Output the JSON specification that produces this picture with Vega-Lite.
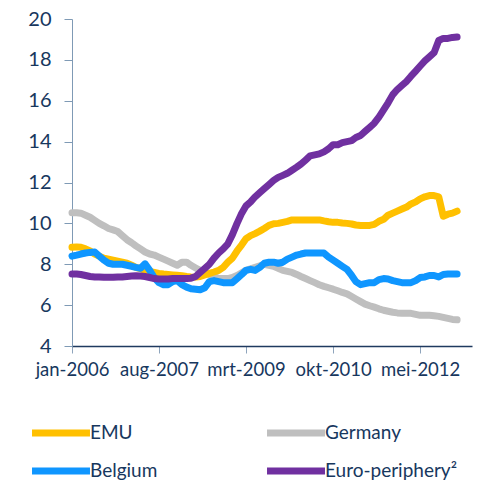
{
  "$schema": "https://vega.github.io/schema/vega-lite/v6.json",
  "width": 400,
  "height": 327,
  "autosize": {"type": "none"},
  "padding": {"left": 72, "top": 19, "right": 11, "bottom": 135},
  "background": "white",
  "config": {"view": {"stroke": null}, "font": "Lato"},
  "data": {"values": [
    {"d":"2006-01-01","Germany":10.52,"EMU":8.83,"Belgium":8.4,"Euro-periphery²":7.52},
    {"d":"2006-02-01","Germany":10.52,"EMU":8.85,"Belgium":8.45,"Euro-periphery²":7.52},
    {"d":"2006-03-01","Germany":10.5,"EMU":8.83,"Belgium":8.5,"Euro-periphery²":7.5},
    {"d":"2006-04-01","Germany":10.4,"EMU":8.75,"Belgium":8.55,"Euro-periphery²":7.45},
    {"d":"2006-05-01","Germany":10.3,"EMU":8.65,"Belgium":8.58,"Euro-periphery²":7.4},
    {"d":"2006-06-01","Germany":10.15,"EMU":8.5,"Belgium":8.6,"Euro-periphery²":7.38},
    {"d":"2006-07-01","Germany":10.0,"EMU":8.4,"Belgium":8.4,"Euro-periphery²":7.38},
    {"d":"2006-08-01","Germany":9.88,"EMU":8.3,"Belgium":8.2,"Euro-periphery²":7.36},
    {"d":"2006-09-01","Germany":9.75,"EMU":8.25,"Belgium":8.05,"Euro-periphery²":7.36},
    {"d":"2006-10-01","Germany":9.68,"EMU":8.2,"Belgium":8.0,"Euro-periphery²":7.36},
    {"d":"2006-11-01","Germany":9.6,"EMU":8.15,"Belgium":8.0,"Euro-periphery²":7.38},
    {"d":"2006-12-01","Germany":9.4,"EMU":8.1,"Belgium":8.0,"Euro-periphery²":7.38},
    {"d":"2007-01-01","Germany":9.2,"EMU":8.05,"Belgium":7.95,"Euro-periphery²":7.4},
    {"d":"2007-02-01","Germany":9.05,"EMU":7.95,"Belgium":7.9,"Euro-periphery²":7.42},
    {"d":"2007-03-01","Germany":8.9,"EMU":7.85,"Belgium":7.85,"Euro-periphery²":7.44},
    {"d":"2007-04-01","Germany":8.75,"EMU":7.78,"Belgium":7.8,"Euro-periphery²":7.42},
    {"d":"2007-05-01","Germany":8.6,"EMU":7.7,"Belgium":8.02,"Euro-periphery²":7.4},
    {"d":"2007-06-01","Germany":8.5,"EMU":7.65,"Belgium":7.7,"Euro-periphery²":7.35},
    {"d":"2007-07-01","Germany":8.45,"EMU":7.6,"Belgium":7.35,"Euro-periphery²":7.3},
    {"d":"2007-08-01","Germany":8.35,"EMU":7.55,"Belgium":7.1,"Euro-periphery²":7.28},
    {"d":"2007-09-01","Germany":8.25,"EMU":7.52,"Belgium":7.0,"Euro-periphery²":7.28},
    {"d":"2007-10-01","Germany":8.15,"EMU":7.5,"Belgium":7.0,"Euro-periphery²":7.28},
    {"d":"2007-11-01","Germany":8.05,"EMU":7.48,"Belgium":7.15,"Euro-periphery²":7.3},
    {"d":"2007-12-01","Germany":7.95,"EMU":7.46,"Belgium":7.2,"Euro-periphery²":7.3},
    {"d":"2008-01-01","Germany":8.1,"EMU":7.44,"Belgium":7.0,"Euro-periphery²":7.3},
    {"d":"2008-02-01","Germany":8.1,"EMU":7.4,"Belgium":6.88,"Euro-periphery²":7.3},
    {"d":"2008-03-01","Germany":7.95,"EMU":7.38,"Belgium":6.8,"Euro-periphery²":7.32},
    {"d":"2008-04-01","Germany":7.82,"EMU":7.37,"Belgium":6.78,"Euro-periphery²":7.4},
    {"d":"2008-05-01","Germany":7.7,"EMU":7.4,"Belgium":6.75,"Euro-periphery²":7.6},
    {"d":"2008-06-01","Germany":7.6,"EMU":7.48,"Belgium":6.85,"Euro-periphery²":7.8},
    {"d":"2008-07-01","Germany":7.5,"EMU":7.55,"Belgium":7.15,"Euro-periphery²":8.0},
    {"d":"2008-08-01","Germany":7.4,"EMU":7.62,"Belgium":7.2,"Euro-periphery²":8.3},
    {"d":"2008-09-01","Germany":7.3,"EMU":7.7,"Belgium":7.15,"Euro-periphery²":8.55},
    {"d":"2008-10-01","Germany":7.3,"EMU":7.85,"Belgium":7.1,"Euro-periphery²":8.75},
    {"d":"2008-11-01","Germany":7.3,"EMU":8.1,"Belgium":7.1,"Euro-periphery²":9.0},
    {"d":"2008-12-01","Germany":7.35,"EMU":8.3,"Belgium":7.1,"Euro-periphery²":9.45},
    {"d":"2009-01-01","Germany":7.45,"EMU":8.65,"Belgium":7.3,"Euro-periphery²":10.0},
    {"d":"2009-02-01","Germany":7.58,"EMU":8.95,"Belgium":7.5,"Euro-periphery²":10.5},
    {"d":"2009-03-01","Germany":7.7,"EMU":9.25,"Belgium":7.7,"Euro-periphery²":10.85},
    {"d":"2009-04-01","Germany":7.78,"EMU":9.4,"Belgium":7.75,"Euro-periphery²":11.05},
    {"d":"2009-05-01","Germany":7.85,"EMU":9.5,"Belgium":7.7,"Euro-periphery²":11.3},
    {"d":"2009-06-01","Germany":7.92,"EMU":9.62,"Belgium":7.85,"Euro-periphery²":11.5},
    {"d":"2009-07-01","Germany":8.0,"EMU":9.75,"Belgium":8.05,"Euro-periphery²":11.7},
    {"d":"2009-08-01","Germany":7.95,"EMU":9.9,"Belgium":8.1,"Euro-periphery²":11.9},
    {"d":"2009-09-01","Germany":7.9,"EMU":9.98,"Belgium":8.1,"Euro-periphery²":12.1},
    {"d":"2009-10-01","Germany":7.8,"EMU":10.0,"Belgium":8.05,"Euro-periphery²":12.25},
    {"d":"2009-11-01","Germany":7.7,"EMU":10.05,"Belgium":8.1,"Euro-periphery²":12.35},
    {"d":"2009-12-01","Germany":7.65,"EMU":10.1,"Belgium":8.25,"Euro-periphery²":12.45},
    {"d":"2010-01-01","Germany":7.6,"EMU":10.17,"Belgium":8.35,"Euro-periphery²":12.6},
    {"d":"2010-02-01","Germany":7.5,"EMU":10.17,"Belgium":8.45,"Euro-periphery²":12.75},
    {"d":"2010-03-01","Germany":7.4,"EMU":10.17,"Belgium":8.5,"Euro-periphery²":12.9},
    {"d":"2010-04-01","Germany":7.3,"EMU":10.17,"Belgium":8.55,"Euro-periphery²":13.1},
    {"d":"2010-05-01","Germany":7.2,"EMU":10.17,"Belgium":8.55,"Euro-periphery²":13.3},
    {"d":"2010-06-01","Germany":7.1,"EMU":10.17,"Belgium":8.55,"Euro-periphery²":13.35},
    {"d":"2010-07-01","Germany":7.0,"EMU":10.17,"Belgium":8.55,"Euro-periphery²":13.4},
    {"d":"2010-08-01","Germany":6.92,"EMU":10.12,"Belgium":8.55,"Euro-periphery²":13.5},
    {"d":"2010-09-01","Germany":6.85,"EMU":10.08,"Belgium":8.35,"Euro-periphery²":13.65},
    {"d":"2010-10-01","Germany":6.78,"EMU":10.05,"Belgium":8.2,"Euro-periphery²":13.85},
    {"d":"2010-11-01","Germany":6.7,"EMU":10.05,"Belgium":8.05,"Euro-periphery²":13.85},
    {"d":"2010-12-01","Germany":6.62,"EMU":10.02,"Belgium":7.9,"Euro-periphery²":13.95},
    {"d":"2011-01-01","Germany":6.55,"EMU":10.0,"Belgium":7.75,"Euro-periphery²":14.0},
    {"d":"2011-02-01","Germany":6.42,"EMU":9.97,"Belgium":7.45,"Euro-periphery²":14.05},
    {"d":"2011-03-01","Germany":6.3,"EMU":9.92,"Belgium":7.15,"Euro-periphery²":14.2},
    {"d":"2011-04-01","Germany":6.17,"EMU":9.9,"Belgium":7.0,"Euro-periphery²":14.3},
    {"d":"2011-05-01","Germany":6.05,"EMU":9.9,"Belgium":7.05,"Euro-periphery²":14.5},
    {"d":"2011-06-01","Germany":5.97,"EMU":9.9,"Belgium":7.1,"Euro-periphery²":14.7},
    {"d":"2011-07-01","Germany":5.9,"EMU":9.95,"Belgium":7.1,"Euro-periphery²":14.9},
    {"d":"2011-08-01","Germany":5.82,"EMU":10.1,"Belgium":7.25,"Euro-periphery²":15.2},
    {"d":"2011-09-01","Germany":5.75,"EMU":10.2,"Belgium":7.3,"Euro-periphery²":15.55},
    {"d":"2011-10-01","Germany":5.7,"EMU":10.4,"Belgium":7.28,"Euro-periphery²":15.9},
    {"d":"2011-11-01","Germany":5.65,"EMU":10.5,"Belgium":7.2,"Euro-periphery²":16.3},
    {"d":"2011-12-01","Germany":5.62,"EMU":10.6,"Belgium":7.15,"Euro-periphery²":16.55},
    {"d":"2012-01-01","Germany":5.6,"EMU":10.7,"Belgium":7.1,"Euro-periphery²":16.75},
    {"d":"2012-02-01","Germany":5.6,"EMU":10.8,"Belgium":7.1,"Euro-periphery²":16.95},
    {"d":"2012-03-01","Germany":5.6,"EMU":10.95,"Belgium":7.1,"Euro-periphery²":17.2},
    {"d":"2012-04-01","Germany":5.55,"EMU":11.05,"Belgium":7.2,"Euro-periphery²":17.45},
    {"d":"2012-05-01","Germany":5.5,"EMU":11.2,"Belgium":7.35,"Euro-periphery²":17.7},
    {"d":"2012-06-01","Germany":5.5,"EMU":11.3,"Belgium":7.38,"Euro-periphery²":17.95},
    {"d":"2012-07-01","Germany":5.5,"EMU":11.36,"Belgium":7.45,"Euro-periphery²":18.15},
    {"d":"2012-08-01","Germany":5.48,"EMU":11.36,"Belgium":7.45,"Euro-periphery²":18.35},
    {"d":"2012-09-01","Germany":5.45,"EMU":11.3,"Belgium":7.38,"Euro-periphery²":18.95},
    {"d":"2012-10-01","Germany":5.4,"EMU":10.35,"Belgium":7.5,"Euro-periphery²":19.05},
    {"d":"2012-11-01","Germany":5.35,"EMU":10.45,"Belgium":7.52,"Euro-periphery²":19.05},
    {"d":"2012-12-01","Germany":5.3,"EMU":10.5,"Belgium":7.52,"Euro-periphery²":19.1},
    {"d":"2013-01-01","Germany":5.28,"EMU":10.6,"Belgium":7.52,"Euro-periphery²":19.12}
  ]},
  "transform": [
    {"fold": ["Germany", "EMU", "Belgium", "Euro-periphery²"], "as": ["series", "value"]}
  ],
  "mark": {"type": "line", "strokeWidth": 7, "strokeCap": "round", "strokeJoin": "round"},
  "encoding": {
    "x": {
      "field": "d", "type": "temporal",
      "scale": {"type": "utc", "domain": [{"year": 2006, "month": 1, "date": 1, "utc": true}, {"year": 2013, "month": 4, "date": 10, "utc": true}]},
      "axis": {
        "title": null,
        "values": [
          {"year": 2006, "month": 1, "date": 1, "utc": true},
          {"year": 2007, "month": 8, "date": 1, "utc": true},
          {"year": 2009, "month": 3, "date": 1, "utc": true},
          {"year": 2010, "month": 10, "date": 1, "utc": true},
          {"year": 2012, "month": 5, "date": 1, "utc": true}
        ],
        "labelExpr": "['jan','feb','mrt','apr','mei','jun','jul','aug','sep','okt','nov','dec'][utcmonth(datum.value)] + '-' + utcyear(datum.value)",
        "grid": false,
        "domainColor": "#1F3A5F",
        "domainWidth": 1.3,
        "tickColor": "#8EA4BC",
        "tickSize": 7,
        "labelFontSize": 18.5,
        "labelColor": "#17375E",
        "labelPadding": 7,
        "labelFlush": false,
        "labelOverlap": false
      }
    },
    "y": {
      "field": "value", "type": "quantitative",
      "scale": {"domain": [4, 20], "nice": false, "zero": false},
      "axis": {
        "title": null,
        "values": [4, 6, 8, 10, 12, 14, 16, 18, 20],
        "grid": false,
        "domainColor": "#7F9AB5",
        "tickColor": "#7F9AB5",
        "tickSize": 8,
        "labelFontSize": 20,
        "labelColor": "#17375E",
        "labelPadding": 13
      }
    },
    "color": {
      "field": "series", "type": "nominal",
      "scale": {"domain": ["EMU", "Germany", "Belgium", "Euro-periphery²"], "range": ["#FFC000", "#BFBFBF", "#0F96FF", "#7030A0"]},
      "legend": {
        "title": null,
        "orient": "none",
        "legendX": -22,
        "legendY": 403,
        "direction": "horizontal",
        "columns": 2,
        "gridAlign": "all",
        "columnPadding": 30,
        "rowPadding": 10,
        "symbolType": "M-4,0H4",
        "symbolSize": 210,
        "symbolStrokeWidth": 7,
        "symbolOffset": 0,
        "labelOffset": 18,
        "labelFontSize": 19,
        "labelColor": "#17375E",
        "labelLimit": 300
      }
    }
  }
}
